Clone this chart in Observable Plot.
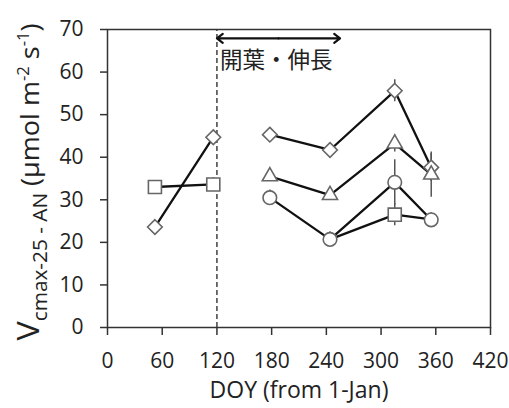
<!DOCTYPE html>
<html><head><meta charset="utf-8">
<script src="https://cdn.jsdelivr.net/npm/d3@7"></script>
<script src="https://cdn.jsdelivr.net/npm/@observablehq/plot@0.6"></script>
<style>body{margin:0;background:#fff;}</style>
</head><body><div id="chart"></div>
<script>
// tick values
const xTicks = [0, 60, 120, 180, 240, 300, 360, 420];
const yTicks = [0, 10, 20, 30, 40, 50, 60, 70];

// series (DOY, value, error, segment, marker shown)
const diamondDOY = [52, 116, 178, 244, 315, 355];
const diamondV   = [23.6, 44.7, 45.3, 41.7, 55.6, 37.6];
const diamondErr = [0, 0, 0, 0, 2.6, 3.3];
const diamondSeg = [0, 0, 1, 1, 1, 1];

const squareDOY = [52, 116, 244, 315, 355];
const squareV   = [33.0, 33.6, 20.7, 26.5, 25.4];
const squareErr = [0, 1.6, 0, 2.6, 1.5];
const squareSeg = [0, 0, 1, 1, 1];
const squareMarker = [1, 1, 0, 1, 0]; // hidden behind circle markers

const circleDOY = [178, 244, 315, 355];
const circleV   = [30.5, 20.7, 34.1, 25.3];
const circleErr = [1.8, 1.8, 5.3, 1.6];

const triangleDOY = [178, 244, 315, 355];
const triangleV   = [35.5, 31.1, 43.2, 35.9];
const triangleErr = [0, 1.2, 2.0, 5.3];

// annotation
const periodStart = 120, periodEnd = 255, periodY = 67.9;
const periodLabel = "開葉・伸長";
const xLabel = "DOY (from 1-Jan)";

function rows(doy, v, err, seg, marker) {
  return doy.map((d, i) => ({doy: d, v: v[i], err: err[i], seg: seg ? seg[i] : 0, marker: marker ? marker[i] : 1}));
}
const diamonds = rows(diamondDOY, diamondV, diamondErr, diamondSeg);
const squares = rows(squareDOY, squareV, squareErr, squareSeg, squareMarker);
const circles = rows(circleDOY, circleV, circleErr);
const triangles = rows(triangleDOY, triangleV, triangleErr);
const all = [...diamonds, ...squares, ...circles, ...triangles].filter(d => d.err > 0);
const mid = (periodStart + periodEnd) / 2;

const lineOpts = {x: "doy", y: "v", z: "seg", stroke: "#111", strokeWidth: 2.3};
const dotOpts = {x: "doy", y: "v", fill: "white", stroke: "#666", strokeWidth: 1.6};

const svg = Plot.plot({
  width: 509, height: 408,
  marginLeft: 107, marginRight: 19, marginTop: 29, marginBottom: 81,
  style: {fontFamily: "Open Sans", background: "white", color: "#222"},
  x: {domain: [0, 420]},
  y: {domain: [0, 70]},
  marks: [
    Plot.axisX({ticks: xTicks, tickSize: 8, tickPadding: 18, fontSize: 21, label: null, stroke: "#333", strokeWidth: 1.5}),
    Plot.axisY({ticks: yTicks, tickSize: 7, tickPadding: 17, fontSize: 21, label: null, stroke: "#333", strokeWidth: 1.5}),
    Plot.frame({stroke: "#333", strokeWidth: 1.5}),
    Plot.ruleX([periodStart], {y1: 0, y2: 70, stroke: "#333", strokeWidth: 1.4, strokeDasharray: "5,3"}),
    Plot.arrow([{x1: mid, x2: periodStart}, {x1: mid, x2: periodEnd}], {x1: "x1", x2: "x2", y1: periodY, y2: periodY, stroke: "#111", strokeWidth: 2.2, headLength: 5, headAngle: 75}),
    Plot.text([periodLabel], {x: periodStart, y: 62.6, dx: 3, textAnchor: "start", fontSize: 22.5, fontFamily: "Noto Sans CJK JP", fill: "#222"}),
    Plot.ruleX(all, {x: "doy", y1: d => d.v - d.err, y2: d => d.v + d.err, stroke: "#555", strokeWidth: 1.5}),
    Plot.line(diamonds, lineOpts),
    Plot.line(squares, lineOpts),
    Plot.line(circles, lineOpts),
    Plot.line(triangles, lineOpts),
    Plot.dot(squares, {...dotOpts, filter: d => d.marker === 1, symbol: "square2", r: 8.3}),
    Plot.dot(diamonds, {...dotOpts, symbol: "diamond2", r: 6.6}),
    Plot.dot(circles, {...dotOpts, symbol: "circle", r: 6.8}),
    Plot.dot(triangles, {...dotOpts, symbol: "triangle2", r: 7.2}),
    Plot.text([xLabel], {frameAnchor: "bottom", dy: 70, fontSize: 23, fill: "#222"})
  ]
});

// rotated y-axis title with subscript / superscripts
const t = d3.select(svg).append("text")
  .attr("transform", "translate(39,182) rotate(-90) scale(1.04,1)")
  .attr("text-anchor", "middle")
  .attr("fill", "#222")
  .attr("font-family", "Open Sans");
t.append("tspan").attr("font-size", 31).text("V");
t.append("tspan").attr("font-size", 20).attr("dy", 8).text("cmax-25 - AN");
t.append("tspan").attr("font-size", 26).attr("dy", -8).text(" (µmol m");
t.append("tspan").attr("font-size", 16).attr("dy", -10).text("-2");
t.append("tspan").attr("font-size", 26).attr("dy", 10).text(" s");
t.append("tspan").attr("font-size", 16).attr("dy", -10).text("-1");
t.append("tspan").attr("font-size", 26).attr("dy", 10).text(")");

document.getElementById("chart").appendChild(svg);
</script>
</body></html>
